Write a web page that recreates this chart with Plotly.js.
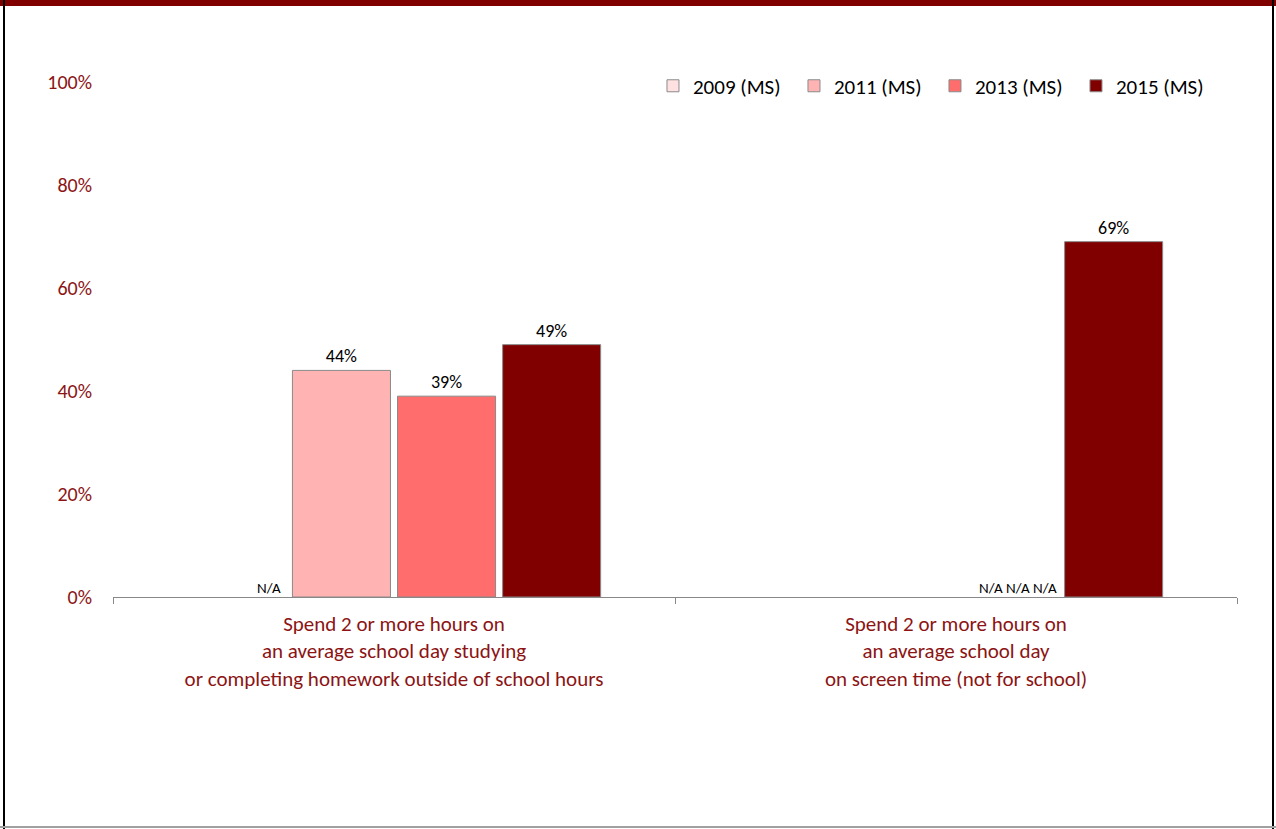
<!DOCTYPE html>
<html>
<head>
<meta charset="utf-8">
<script src="https://cdn.plot.ly/plotly-3.0.1.min.js"></script>
<style>
  html, body { margin: 0; padding: 0; background: #fff; }
  #wrap { position: relative; width: 1276px; height: 829px; overflow: hidden; }
  #chart { position: absolute; left: 0; top: 0; width: 1276px; height: 829px; }
  .bd { position: absolute; pointer-events: none; }
</style>
</head>
<body>
<div id="wrap">
  <div id="chart"></div>
  <div class="bd" style="left:0;top:0;width:1276px;height:6px;background:#800000;"></div>
  <div class="bd" style="left:3px;top:0;width:2px;height:829px;background:#000;"></div>
  <div class="bd" style="left:1272px;top:0;width:2px;height:829px;background:#000;"></div>
  <div class="bd" style="left:0;top:826px;width:1276px;height:2px;background:#a0a0a0;"></div>
</div>
<script>
const categories = [
  "Spend 2 or more hours on<br>an average school day studying<br>or completing homework outside of school hours",
  "Spend 2 or more hours on<br>an average school day<br>on screen time (not for school)"
];
const seriesNames = ["2009 (MS)", "2011 (MS)", "2013 (MS)", "2015 (MS)"];
const v2009 = [null, null];
const v2011 = [0.44, null];
const v2013 = [0.39, null];
const v2015 = [0.49, 0.69];
const seriesValues = [v2009, v2011, v2013, v2015];
const seriesColors = ["#FFE1E1", "#FFB3B3", "#FF6D6D", "#800000"];
const yTickVals = [0, 0.2, 0.4, 0.6, 0.8, 1.0];
const yTickText = ["0%", "20%", "40%", "60%", "80%", "100%"];

const FONT = "Carlito, Calibri, Lato, 'Open Sans', sans-serif";
const RED = "#8C1414";

const traces = seriesNames.map((name, i) => ({
  type: "bar",
  name: name,
  x: categories,
  y: seriesValues[i],
  marker: { color: seriesColors[i], line: { color: "#8a8a8a", width: 1 } },
  text: seriesValues[i].map(v => v == null ? "" : Math.round(v * 100) + "%"),
  textposition: "outside",
  textfont: { family: FONT, size: 18, color: "#000" },
  cliponaxis: false,
  hoverinfo: "none"
}));

// N/A labels for missing values, grouped per category
const naShift = [-125, 62];
const annotations = categories.map((c, ci) => {
  const n = seriesValues.filter(s => s[ci] == null).length;
  return {
    x: c, y: 0, xref: "x", yref: "y",
    text: Array(n).fill("N/A").join(" "),
    showarrow: false, xanchor: "center", yanchor: "bottom",
    xshift: naShift[ci], yshift: -2,
    font: { family: FONT, size: 15, color: "#000" }
  };
}).filter(a => a.text.length > 0);

const layout = {
  width: 1276, height: 829,
  margin: { l: 113, r: 39, t: 82, b: 232, pad: 0 },
  paper_bgcolor: "#fff", plot_bgcolor: "#fff",
  barmode: "group", bargap: 0.252, bargroupgap: 0.067,
  font: { family: FONT, size: 20, color: "#000" },
  showlegend: true,
  legend: {
    orientation: "h", xref: "paper", yref: "paper",
    x: 0.4804, xanchor: "left", y: 0.992, yanchor: "middle",
    font: { family: FONT, size: 21, color: "#000" },
    entrywidth: 96, entrywidthmode: "pixels",
    traceorder: "normal", bgcolor: "rgba(0,0,0,0)"
  },
  xaxis: {
    type: "category",
    showline: true, linecolor: "#888", linewidth: 1,
    ticks: "outside", ticklen: 6, tickcolor: "#888",
    tickmode: "array", tickvals: [-0.5, 0.5, 1.5], ticktext: ["", "", ""],
    range: [-0.5, 1.5], showgrid: false, zeroline: false,
    fixedrange: true
  },
  xaxis2: {
    overlaying: "x", type: "category", range: [-0.5, 1.5],
    showline: false, ticks: "", showgrid: false, zeroline: false,
    tickfont: { family: FONT, size: 21, color: RED }, side: "bottom",
    ticklabelstandoff: 12
  },
  yaxis: {
    range: [0, 1], tickvals: yTickVals, ticktext: yTickText,
    tickfont: { family: FONT, size: 20, color: RED },
    showgrid: false, zeroline: false, showline: false, ticks: "",
    ticklabelstandoff: 20, fixedrange: true
  },
  annotations: annotations
};

// Invisible trace to carry category labels at category centres
traces.push({
  type: "scatter", x: categories, y: [0, 0], xaxis: "x2", mode: "none",
  showlegend: false, hoverinfo: "none"
});

Plotly.newPlot("chart", traces, layout, { displayModeBar: false, staticPlot: true });
</script>
</body>
</html>
